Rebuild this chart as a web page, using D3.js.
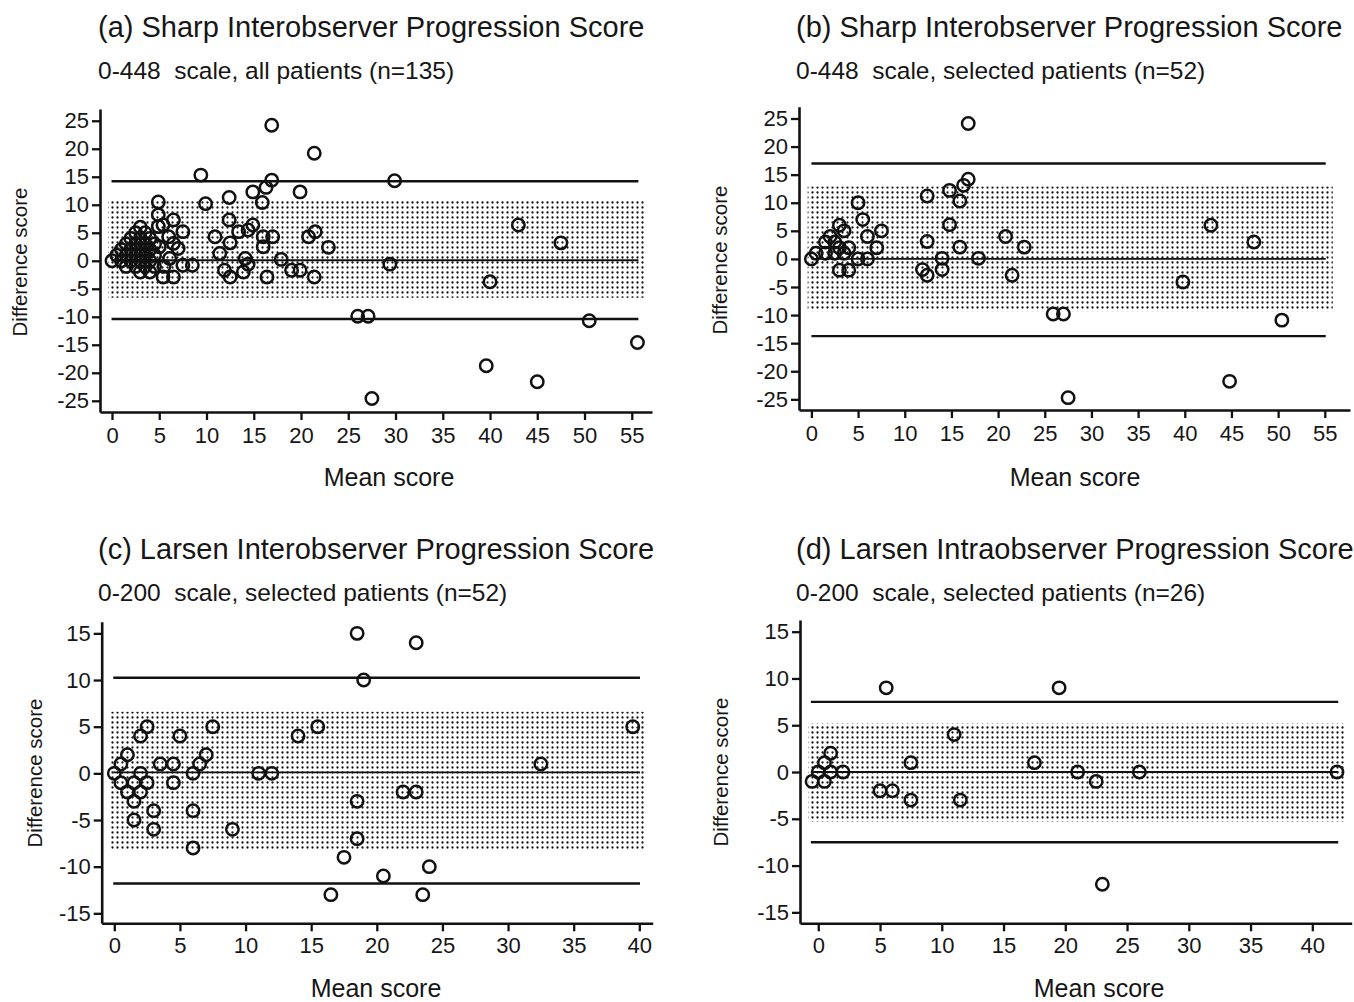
<!DOCTYPE html>
<html>
<head>
<meta charset="utf-8" />
<script src="https://d3js.org/d3.v7.min.js"></script>
<title>Progression score agreement</title>
<style>
  body { margin: 0; background: #fff; }
  text { font-family: "Liberation Sans", Arial, Helvetica, sans-serif; fill: #161616; white-space: pre; }
</style>
</head>
<body>
<svg id="chart" width="1354" height="1002"></svg>
<script>
// ---- data ----
var titles = [
  "(a) Sharp Interobserver Progression Score",
  "(b) Sharp Interobserver Progression Score",
  "(c) Larsen Interobserver Progression Score",
  "(d) Larsen Intraobserver Progression Score"
];
var subtitles = [
  "0-448  scale, all patients (n=135)",
  "0-448  scale, selected patients (n=52)",
  "0-200  scale, selected patients (n=52)",
  "0-200  scale, selected patients (n=26)"
];
var sharpXTicks = [0, 5, 10, 15, 20, 25, 30, 35, 40, 45, 50, 55];
var sharpYTicks = [-25, -20, -15, -10, -5, 0, 5, 10, 15, 20, 25];
var larsenXTicks = [0, 5, 10, 15, 20, 25, 30, 35, 40];
var larsenYTicks = [-15, -10, -5, 0, 5, 10, 15];

// [mean score, difference score]
var pointsA = [
  [0,0],[0.5,1],[1,0],[1,2],[1.5,1],[1.5,3],[1.5,-1],[2,0],[2,2],[2,4],[2.5,1],[2.5,3],[2.5,5],[2.5,-1],
  [3,0],[3,2],[3,4],[3,6],[3,-2],[3.5,1],[3.5,3],[3.5,5],[3.5,-1],[4,0],[4,2],[4,4],[4,-2],[4.5,1],[4.5,3],[4.5,-1],
  [5,2.5],[4.9,6.1],[4.9,8.2],[4.9,10.5],[5.4,6.4],[6.5,7.3],[5.4,-2.9],[5.5,-1],[6,4.3],[6.1,0.4],[6.5,3.1],
  [6.5,-2.9],[7,2.2],[7.5,5.2],[7.5,-0.8],[8.5,-0.8],
  [9.4,15.3],[9.9,10.2],[10.9,4.3],[11.4,1.3],[11.9,-1.7],[12.4,11.3],[12.4,7.3],[12.5,3.2],[12.5,-2.9],
  [13.4,5.2],[14.1,0.4],[13.9,-2],[14.4,5.5],[14.4,-0.6],[14.9,6.4],[14.9,12.3],[15.9,10.4],[16,4.3],[16,2.5],
  [16.3,13.1],[16.4,-2.9],[16.9,14.4],[16.9,24.2],[17,4.3],[17.9,0.25],[19,-1.7],[19.9,-1.7],[19.9,12.3],
  [20.8,4.3],[21.5,5.2],[21.4,19.2],[21.4,-2.9],[22.9,2.4],
  [29.4,-0.6],[29.9,14.3],[26,-9.9],[27.1,-9.9],[27.5,-24.6],[39.6,-18.75],[40,-3.75],[43,6.4],[45,-21.6],
  [47.5,3.2],[50.5,-10.7],[55.6,-14.6]
];
var pointsB = [
  [0,0],[0.5,1],[1.5,1],[1.5,3],[2,4],[2.5,3],[2.5,1],[3,6],[3,2],[3.5,5],[3.5,1],[4,2],[3,-2],[4,-2],
  [5,10],[5.5,7],[6,4],[5,0],[6,0],[7,2],[7.5,5],
  [12.4,11.2],[12.4,3.1],[11.9,-1.9],[12.4,-2.9],[14,0.1],[14,-1.9],[14.8,12.2],[15.9,10.3],[14.8,6.1],
  [15.9,2.1],[16.3,13.1],[16.8,14.2],[16.8,24.1],[17.9,0.1],[20.8,4],[21.5,-2.9],[22.8,2.1],
  [25.9,-9.8],[27,-9.8],[27.5,-24.7],[39.8,-4.1],[42.8,6],[47.4,3],[50.4,-10.9],[44.8,-21.8]
];
var pointsC = [
  [0,0],[0.5,1],[1,2],[0.5,-1],[1,-2],[1.5,-1],[1.5,-3],[1.5,-5],[2,0],[2,-2],[2,4],[2.5,5],[2.5,-1],
  [3,-4],[3,-6],[3.5,1],[4.5,1],[4.5,-1],[5,4],[6,0],[6,-4],[6,-8],[6.5,1],[7,2],[7.5,5],[9,-6],
  [11,0],[12,0],[14,4],[15.5,5],[16.5,-13],[17.5,-9],[18.5,15],[23,14],[19,10],[18.5,-3],[18.5,-7],
  [20.5,-11],[22,-2],[23,-2],[24,-10],[23.5,-13],[32.5,1],[39.5,5]
];
var pointsD = [
  [-0.5,-1],[0,0],[0.5,1],[0.5,-1],[1,2],[1,0],[2,0],[5.5,9],[5,-2],[6,-2],[7.5,1],[7.5,-3],
  [11,4],[11.5,-3],[17.5,1],[19.5,9],[21,0],[22.5,-1],[26,0],[42,0],[23,-12]
];

// limits of agreement: [lower, mean, upper]; dotted band: [low, high]
var limitsA = [-10.4, 0.1, 14.2], bandA = [-6.6, 11.0];
var limitsB = [-13.75, 0, 17.0], bandB = [-9.3, 12.9];
var limitsC = [-11.8, 0.1, 10.25], bandC = [-8.15, 6.6];
var limitsD = [-7.5, 0, 7.5], bandD = [-5.3, 5.2];

// ---- layout ----
var panels = [
  { pts: pointsA, lim: limitsA, band: bandA, xt: sharpXTicks, yt: sharpYTicks,
    xDom: [-1.27, 57.14], yDom: [-27.0, 27.1], box: [100, 652, 109, 412],
    lineX: [-0.05, 55.7], bandX: [-0.4, 56.5],
    title: [98, 37], sub: [98, 79], xl: [389, 486], yl: [19.5, 262] },
  { pts: pointsB, lim: limitsB, band: bandB, xt: sharpXTicks, yt: sharpYTicks,
    xDom: [-1.33, 57.7], yDom: [-26.9, 27.1], box: [799, 1350, 106.7, 410],
    lineX: [0, 55.1], bandX: [-0.4, 55.85],
    title: [796, 37], sub: [796, 79], xl: [1075, 486], yl: [719.5, 260] },
  { pts: pointsC, lim: limitsC, band: bandC, xt: larsenXTicks, yt: larsenYTicks,
    xDom: [-0.96, 41.02], yDom: [-16.07, 16.25], box: [101.7, 652.7, 621.7, 923.3],
    lineX: [-0.08, 40.05], bandX: [-0.27, 40.5],
    title: [98, 559], sub: [98, 601], xl: [376, 997], yl: [34.5, 773] },
  { pts: pointsD, lim: limitsD, band: bandD, xt: larsenXTicks, yt: larsenYTicks,
    xDom: [-1.48, 43.19], yDom: [-16.17, 16.25], box: [800, 1351.7, 620, 923.3],
    lineX: [-0.6, 42.1], bandX: [-0.8, 42.7],
    title: [796, 559], sub: [796, 601], xl: [1099, 997], yl: [720.5, 772] }
];

var svg = d3.select("#chart");

// dotted screen used for the shaded band
var pat = svg.append("defs").append("pattern")
  .attr("id", "dots")
  .attr("patternUnits", "userSpaceOnUse")
  .attr("width", 5).attr("height", 5);
pat.append("circle").attr("cx", 2.5).attr("cy", 2.5).attr("r", 1.15).attr("fill", "#111");

panels.forEach(function(p, i) {
  var x = d3.scaleLinear().domain(p.xDom).range([p.box[0], p.box[1]]);
  var y = d3.scaleLinear().domain(p.yDom).range([p.box[3], p.box[2]]);
  var g = svg.append("g");

  g.append("text").attr("x", p.title[0]).attr("y", p.title[1])
    .style("font-size", "29px").text(titles[i]);
  g.append("text").attr("x", p.sub[0]).attr("y", p.sub[1])
    .style("font-size", "24.5px").text(subtitles[i]);

  // band
  g.append("rect")
    .attr("x", x(p.bandX[0]))
    .attr("width", x(p.bandX[1]) - x(p.bandX[0]))
    .attr("y", y(p.band[1]))
    .attr("height", y(p.band[0]) - y(p.band[1]))
    .attr("fill", "url(#dots)");

  // limit and mean lines
  g.selectAll(".lim").data(p.lim).enter().append("line")
    .attr("x1", x(p.lineX[0])).attr("x2", x(p.lineX[1]))
    .attr("y1", function(d) { return y(d); })
    .attr("y2", function(d) { return y(d); })
    .attr("stroke", "#111")
    .attr("stroke-width", function(d, j) { return j == 1 ? 1.9 : 2.4; });

  // points
  g.selectAll(".pt").data(p.pts).enter().append("circle")
    .attr("cx", function(d) { return x(d[0]); })
    .attr("cy", function(d) { return y(d[1]); })
    .attr("r", 6.2)
    .attr("fill", "none")
    .attr("stroke", "#111")
    .attr("stroke-width", 2.5);

  // axes
  var fmt = function(d) { return String(d); };
  var ax = g.append("g").attr("transform", "translate(0," + p.box[3] + ")")
    .call(d3.axisBottom(x).tickValues(p.xt).tickFormat(fmt).tickSize(8).tickSizeOuter(0).tickPadding(i < 2 ? 7 : 6));
  var ay = g.append("g").attr("transform", "translate(" + p.box[0] + ",0)")
    .call(d3.axisLeft(y).tickValues(p.yt).tickFormat(fmt).tickSize(8).tickSizeOuter(0).tickPadding(3));
  [ax, ay].forEach(function(a) {
    a.select(".domain").attr("stroke", "#111").attr("stroke-width", 2.6);
    a.selectAll(".tick line").attr("stroke", "#111").attr("stroke-width", 2.3);
    a.selectAll(".tick text").style("font-size", "22px")
      .style("font-family", "'Liberation Sans', Arial, sans-serif").attr("fill", "#161616");
  });

  g.append("text").attr("x", p.xl[0]).attr("y", p.xl[1])
    .attr("text-anchor", "middle").style("font-size", "25px").text("Mean score");
  g.append("text")
    .attr("transform", "translate(" + p.yl[0] + "," + p.yl[1] + ") rotate(-90)")
    .attr("text-anchor", "middle").attr("dy", "0.35em")
    .style("font-size", "20.5px").text("Difference score");
});
</script>
</body>
</html>
